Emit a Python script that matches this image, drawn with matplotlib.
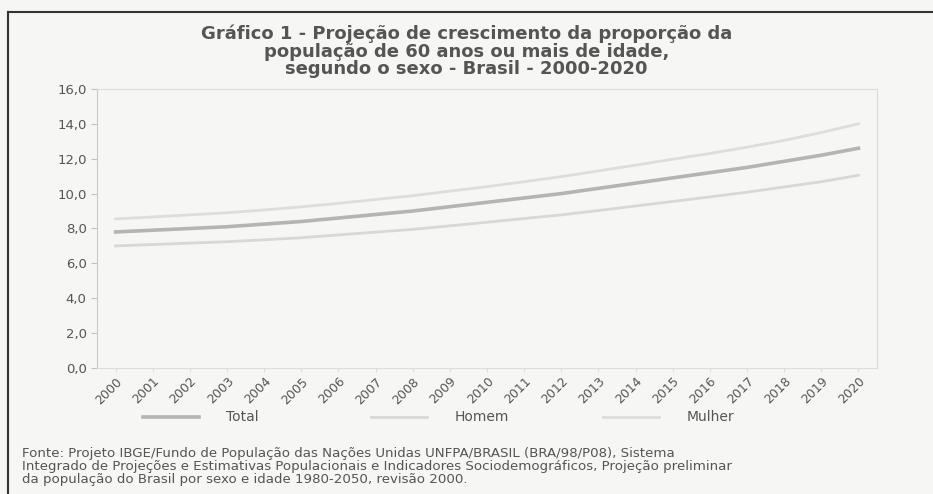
import matplotlib
matplotlib.use("Agg")
import matplotlib.pyplot as plt
from matplotlib.lines import Line2D
from matplotlib.ticker import FuncFormatter

# Data (percentage of population aged 60+)
anos = list(range(2000, 2021))
total = [7.8, 7.9, 8.0, 8.1, 8.25, 8.4, 8.6, 8.8, 9.0, 9.25, 9.5,
         9.75, 10.0, 10.3, 10.6, 10.9, 11.2, 11.5, 11.85, 12.2, 12.6]
homem = [7.0, 7.08, 7.16, 7.24, 7.35, 7.47, 7.63, 7.79, 7.95, 8.15, 8.36,
         8.57, 8.78, 9.03, 9.29, 9.55, 9.81, 10.08, 10.38, 10.68, 11.05]
mulher = [8.55, 8.66, 8.78, 8.9, 9.06, 9.24, 9.44, 9.66, 9.88, 10.14, 10.4,
          10.68, 10.97, 11.3, 11.63, 11.97, 12.3, 12.66, 13.05, 13.5, 14.0]

titulo = ("Gráfico 1 - Projeção de crescimento da proporção da\n"
          "população de 60 anos ou mais de idade,\n"
          "segundo o sexo - Brasil - 2000-2020")
fonte = ("Fonte: Projeto IBGE/Fundo de População das Nações Unidas UNFPA/BRASIL (BRA/98/P08), Sistema\n"
         "Integrado de Projeções e Estimativas Populacionais e Indicadores Sociodemográficos, Projeção preliminar\n"
         "da população do Brasil por sexo e idade 1980-2050, revisão 2000.")

bg = "#f6f6f4"
txt = "#555555"

fig = plt.figure(figsize=(9.33, 4.94), dpi=100, facecolor=bg)
ax = fig.add_axes([0.104, 0.255, 0.836, 0.565], facecolor=bg)

l_total, = ax.plot(anos, total, color="#b4b4b4", linewidth=2.6, label="Total")
l_homem, = ax.plot(anos, homem, color="#d8d8d8", linewidth=2.0, label="Homem")
l_mulher, = ax.plot(anos, mulher, color="#dddddd", linewidth=2.0, label="Mulher")

ax.set_xlim(1999.5, 2020.5)
ax.set_ylim(0, 16)
ax.set_yticks(range(0, 17, 2))
ax.yaxis.set_major_formatter(FuncFormatter(lambda v, p: f"{v:.1f}".replace(".", ",")))
ax.set_xticks(anos)
ax.set_xticklabels([str(a) for a in anos], rotation=45, ha="right",
                   rotation_mode="anchor")

for s in ["top", "right", "bottom"]:
    ax.spines[s].set_color("#dddddd")
ax.spines["left"].set_color("#c8c8c8")
ax.tick_params(axis="y", colors="#c0c0c0", labelcolor=txt, labelsize=9.5,
               length=4, direction="out")
ax.tick_params(axis="x", colors="#dddddd", labelcolor=txt, labelsize=9,
               length=3, direction="out", pad=2)

fig.text(0.5, 0.896, titulo, ha="center", va="center", fontsize=13,
         fontweight="bold", color=txt, linespacing=0.98)

# legend: three fixed-width columns like the original
for h, x0 in [(l_total, 143), (l_homem, 371), (l_mulher, 603)]:
    fig.legend(handles=[h], loc="center left", bbox_to_anchor=(x0 / 933, 0.155),
               frameon=False, handlelength=4.0, handletextpad=2.0,
               borderpad=0, borderaxespad=0, fontsize=10, labelcolor=txt)

fig.text(0.024, 0.056, fonte, ha="left", va="center", fontsize=9.6,
         color=txt, linespacing=1.02)

# scanned page border (top and left edges)
fig.add_artist(Line2D([0.009, 0.999], [0.976, 0.976], color="#333333", linewidth=1.5))
fig.add_artist(Line2D([0.009, 0.009], [0.0, 0.976], color="#333333", linewidth=1.5))

plt.savefig("out.png", dpi=100, facecolor=bg)
